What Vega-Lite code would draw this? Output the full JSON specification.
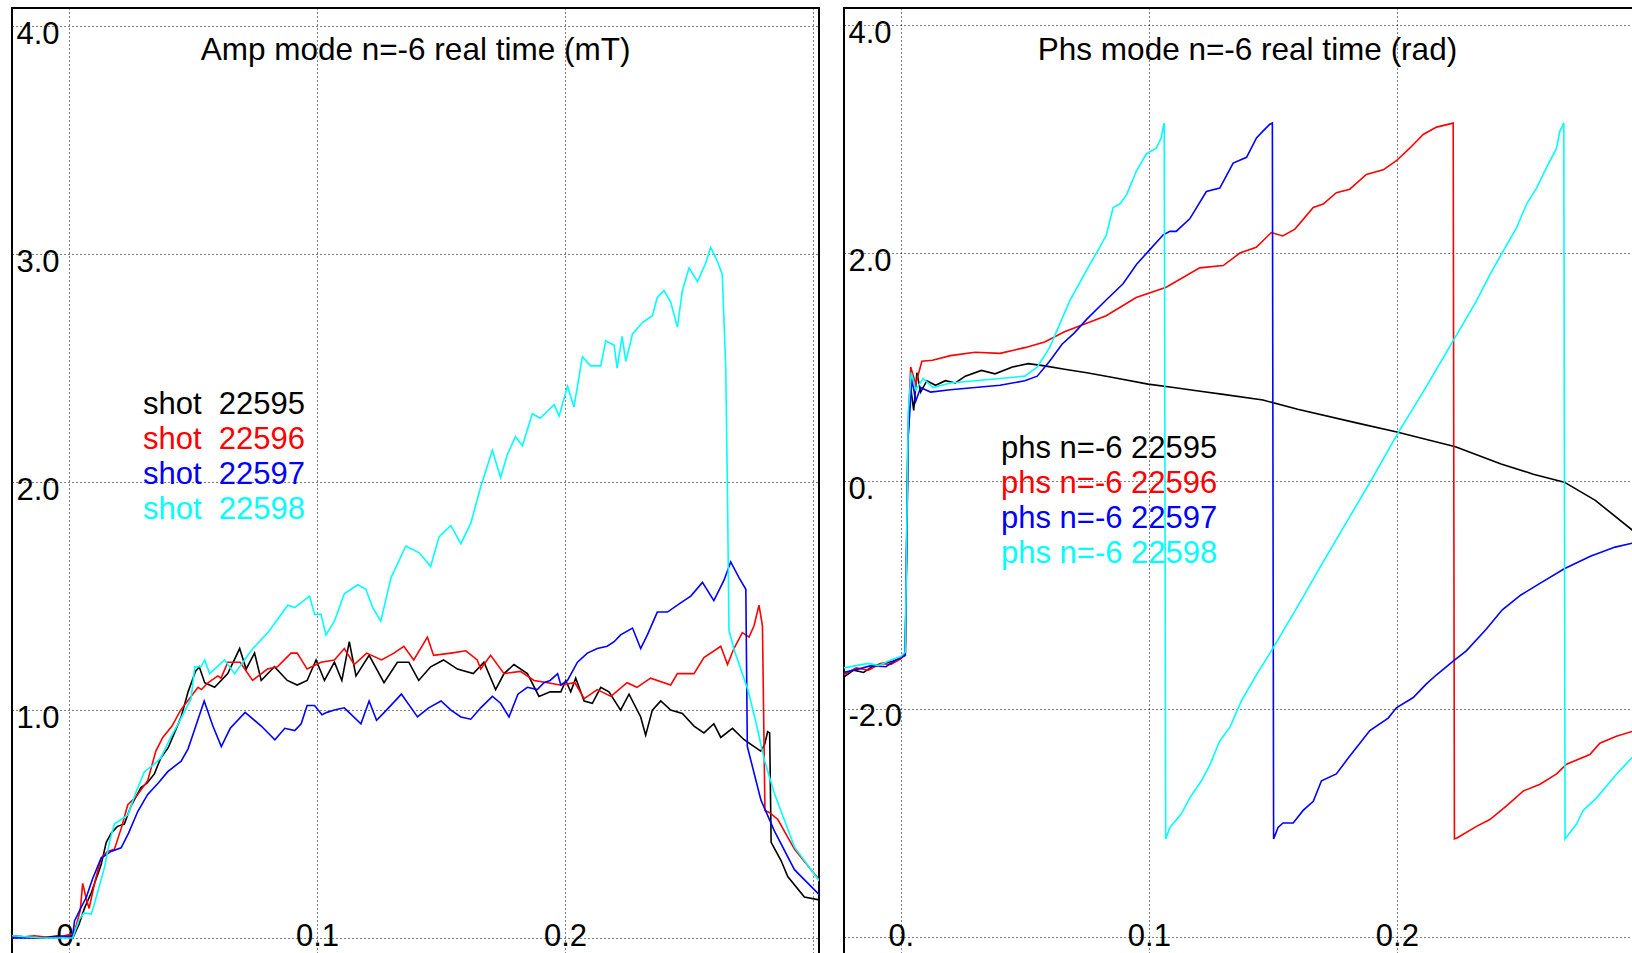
{
  "$schema": "https://vega.github.io/schema/vega-lite/v6.json",
  "padding": {"left": 11, "top": 7, "right": 0, "bottom": 0},
  "spacing": 23,
  "config": {
    "font": "Liberation Sans",
    "view": {"stroke": "#000000", "strokeWidth": 2},
    "axis": {
      "grid": true, "gridColor": "#000000", "gridDash": [1, 3], "gridOpacity": 1, "gridWidth": 1,
      "domain": false, "ticks": false, "tickSize": 0, "title": null,
      "labelFont": "Liberation Sans", "labelFontSize": 31, "labelColor": "#000000",
      "labelOverlap": false, "labelBound": false, "labelFlush": false
    },
    "legend": {
      "title": null, "orient": "none", "symbolSize": 0, "symbolOpacity": 0, "symbolStrokeWidth": 0,
      "labelOffset": 0, "labelFont": "Liberation Sans", "labelFontSize": 31, "labelLimit": 0, "rowPadding": 3, "padding": 0
    },
    "title": {"font": "Liberation Sans", "fontSize": 31.5, "fontWeight": "normal", "color": "#000000", "anchor": "middle", "frame": "group"}
  },
  "datasets": {
    "amp": [
      {"t": -0.023, "v": 0.01, "shot": "22595"}, {"t": -0.012, "v": 0.0, "shot": "22595"}, {"t": -0.004, "v": 0.01, "shot": "22595"}, {"t": 0.0015, "v": 0.0, "shot": "22595"},
      {"t": 0.004, "v": 0.06, "shot": "22595"}, {"t": 0.0062, "v": 0.13, "shot": "22595"}, {"t": 0.009, "v": 0.2, "shot": "22595"}, {"t": 0.0129, "v": 0.32, "shot": "22595"},
      {"t": 0.015, "v": 0.42, "shot": "22595"}, {"t": 0.017, "v": 0.46, "shot": "22595"}, {"t": 0.0195, "v": 0.49, "shot": "22595"}, {"t": 0.0223, "v": 0.5, "shot": "22595"},
      {"t": 0.025, "v": 0.58, "shot": "22595"}, {"t": 0.029, "v": 0.66, "shot": "22595"}, {"t": 0.0315, "v": 0.68, "shot": "22595"}, {"t": 0.0344, "v": 0.72, "shot": "22595"},
      {"t": 0.037, "v": 0.79, "shot": "22595"}, {"t": 0.04, "v": 0.835, "shot": "22595"}, {"t": 0.0425, "v": 0.9, "shot": "22595"}, {"t": 0.0452, "v": 0.97, "shot": "22595"},
      {"t": 0.048, "v": 1.08, "shot": "22595"}, {"t": 0.051, "v": 1.17, "shot": "22595"}, {"t": 0.0525, "v": 1.19, "shot": "22595"}, {"t": 0.0547, "v": 1.12, "shot": "22595"},
      {"t": 0.0587, "v": 1.1, "shot": "22595"}, {"t": 0.064, "v": 1.16, "shot": "22595"}, {"t": 0.0688, "v": 1.27, "shot": "22595"}, {"t": 0.0714, "v": 1.18, "shot": "22595"},
      {"t": 0.0748, "v": 1.25, "shot": "22595"}, {"t": 0.0775, "v": 1.13, "shot": "22595"}, {"t": 0.0828, "v": 1.19, "shot": "22595"}, {"t": 0.088, "v": 1.13, "shot": "22595"},
      {"t": 0.092, "v": 1.11, "shot": "22595"}, {"t": 0.096, "v": 1.13, "shot": "22595"}, {"t": 0.0996, "v": 1.22, "shot": "22595"}, {"t": 0.103, "v": 1.13, "shot": "22595"},
      {"t": 0.107, "v": 1.21, "shot": "22595"}, {"t": 0.11, "v": 1.13, "shot": "22595"}, {"t": 0.113, "v": 1.3, "shot": "22595"}, {"t": 0.1157, "v": 1.15, "shot": "22595"},
      {"t": 0.121, "v": 1.24, "shot": "22595"}, {"t": 0.127, "v": 1.12, "shot": "22595"}, {"t": 0.1324, "v": 1.21, "shot": "22595"}, {"t": 0.137, "v": 1.21, "shot": "22595"},
      {"t": 0.141, "v": 1.13, "shot": "22595"}, {"t": 0.1458, "v": 1.19, "shot": "22595"}, {"t": 0.151, "v": 1.22, "shot": "22595"}, {"t": 0.1566, "v": 1.18, "shot": "22595"},
      {"t": 0.163, "v": 1.16, "shot": "22595"}, {"t": 0.1673, "v": 1.21, "shot": "22595"}, {"t": 0.172, "v": 1.09, "shot": "22595"}, {"t": 0.1754, "v": 1.16, "shot": "22595"},
      {"t": 0.1794, "v": 1.2, "shot": "22595"}, {"t": 0.1848, "v": 1.16, "shot": "22595"}, {"t": 0.1895, "v": 1.06, "shot": "22595"}, {"t": 0.194, "v": 1.08, "shot": "22595"},
      {"t": 0.1983, "v": 1.08, "shot": "22595"}, {"t": 0.2003, "v": 1.13, "shot": "22595"}, {"t": 0.2023, "v": 1.08, "shot": "22595"}, {"t": 0.2043, "v": 1.14, "shot": "22595"},
      {"t": 0.2077, "v": 1.04, "shot": "22595"}, {"t": 0.211, "v": 1.03, "shot": "22595"}, {"t": 0.2144, "v": 1.1, "shot": "22595"}, {"t": 0.2177, "v": 1.08, "shot": "22595"},
      {"t": 0.2224, "v": 1.0, "shot": "22595"}, {"t": 0.2258, "v": 1.07, "shot": "22595"}, {"t": 0.2305, "v": 0.97, "shot": "22595"}, {"t": 0.2325, "v": 0.89, "shot": "22595"},
      {"t": 0.2352, "v": 1.0, "shot": "22595"}, {"t": 0.2386, "v": 1.04, "shot": "22595"}, {"t": 0.2426, "v": 1.0, "shot": "22595"}, {"t": 0.2473, "v": 0.985, "shot": "22595"},
      {"t": 0.252, "v": 0.93, "shot": "22595"}, {"t": 0.256, "v": 0.9, "shot": "22595"}, {"t": 0.26, "v": 0.94, "shot": "22595"}, {"t": 0.2628, "v": 0.88, "shot": "22595"},
      {"t": 0.2675, "v": 0.92, "shot": "22595"}, {"t": 0.2722, "v": 0.87, "shot": "22595"}, {"t": 0.2789, "v": 0.82, "shot": "22595"}, {"t": 0.2805, "v": 0.85, "shot": "22595"},
      {"t": 0.2817, "v": 0.905, "shot": "22595"}, {"t": 0.2825, "v": 0.9, "shot": "22595"}, {"t": 0.2831, "v": 0.42, "shot": "22595"}, {"t": 0.2871, "v": 0.34, "shot": "22595"},
      {"t": 0.2898, "v": 0.27, "shot": "22595"}, {"t": 0.2965, "v": 0.18, "shot": "22595"}, {"t": 0.3025, "v": 0.167, "shot": "22595"},

      {"t": -0.023, "v": 0.0, "shot": "22596"}, {"t": -0.014, "v": 0.01, "shot": "22596"}, {"t": -0.006, "v": 0.0, "shot": "22596"}, {"t": 0.002, "v": 0.02, "shot": "22596"},
      {"t": 0.0045, "v": 0.12, "shot": "22596"}, {"t": 0.0055, "v": 0.24, "shot": "22596"}, {"t": 0.007, "v": 0.17, "shot": "22596"}, {"t": 0.0081, "v": 0.13, "shot": "22596"},
      {"t": 0.0105, "v": 0.25, "shot": "22596"}, {"t": 0.0129, "v": 0.35, "shot": "22596"}, {"t": 0.0155, "v": 0.38, "shot": "22596"}, {"t": 0.0183, "v": 0.39, "shot": "22596"},
      {"t": 0.021, "v": 0.48, "shot": "22596"}, {"t": 0.0237, "v": 0.585, "shot": "22596"}, {"t": 0.027, "v": 0.62, "shot": "22596"}, {"t": 0.0317, "v": 0.69, "shot": "22596"},
      {"t": 0.035, "v": 0.82, "shot": "22596"}, {"t": 0.0378, "v": 0.88, "shot": "22596"}, {"t": 0.0415, "v": 0.93, "shot": "22596"}, {"t": 0.045, "v": 1.0, "shot": "22596"},
      {"t": 0.0485, "v": 1.05, "shot": "22596"}, {"t": 0.052, "v": 1.1, "shot": "22596"}, {"t": 0.0534, "v": 1.09, "shot": "22596"}, {"t": 0.056, "v": 1.12, "shot": "22596"},
      {"t": 0.06, "v": 1.15, "shot": "22596"}, {"t": 0.0613, "v": 1.14, "shot": "22596"}, {"t": 0.064, "v": 1.21, "shot": "22596"}, {"t": 0.069, "v": 1.21, "shot": "22596"},
      {"t": 0.074, "v": 1.13, "shot": "22596"}, {"t": 0.08, "v": 1.18, "shot": "22596"}, {"t": 0.084, "v": 1.19, "shot": "22596"}, {"t": 0.0895, "v": 1.25, "shot": "22596"},
      {"t": 0.092, "v": 1.25, "shot": "22596"}, {"t": 0.096, "v": 1.18, "shot": "22596"}, {"t": 0.1016, "v": 1.21, "shot": "22596"}, {"t": 0.107, "v": 1.22, "shot": "22596"},
      {"t": 0.111, "v": 1.27, "shot": "22596"}, {"t": 0.115, "v": 1.2, "shot": "22596"}, {"t": 0.12, "v": 1.25, "shot": "22596"}, {"t": 0.126, "v": 1.22, "shot": "22596"},
      {"t": 0.131, "v": 1.25, "shot": "22596"}, {"t": 0.135, "v": 1.28, "shot": "22596"}, {"t": 0.139, "v": 1.22, "shot": "22596"}, {"t": 0.1445, "v": 1.32, "shot": "22596"},
      {"t": 0.147, "v": 1.24, "shot": "22596"}, {"t": 0.154, "v": 1.25, "shot": "22596"}, {"t": 0.16, "v": 1.26, "shot": "22596"}, {"t": 0.1646, "v": 1.22, "shot": "22596"},
      {"t": 0.166, "v": 1.18, "shot": "22596"}, {"t": 0.17, "v": 1.24, "shot": "22596"}, {"t": 0.1754, "v": 1.16, "shot": "22596"}, {"t": 0.182, "v": 1.17, "shot": "22596"},
      {"t": 0.1875, "v": 1.13, "shot": "22596"}, {"t": 0.193, "v": 1.12, "shot": "22596"}, {"t": 0.198, "v": 1.11, "shot": "22596"}, {"t": 0.204, "v": 1.12, "shot": "22596"},
      {"t": 0.2077, "v": 1.05, "shot": "22596"}, {"t": 0.213, "v": 1.09, "shot": "22596"}, {"t": 0.2185, "v": 1.06, "shot": "22596"}, {"t": 0.225, "v": 1.12, "shot": "22596"},
      {"t": 0.229, "v": 1.1, "shot": "22596"}, {"t": 0.2345, "v": 1.14, "shot": "22596"}, {"t": 0.2426, "v": 1.11, "shot": "22596"}, {"t": 0.2453, "v": 1.16, "shot": "22596"},
      {"t": 0.252, "v": 1.16, "shot": "22596"}, {"t": 0.256, "v": 1.23, "shot": "22596"}, {"t": 0.2628, "v": 1.28, "shot": "22596"}, {"t": 0.2655, "v": 1.2, "shot": "22596"},
      {"t": 0.2681, "v": 1.27, "shot": "22596"}, {"t": 0.2715, "v": 1.34, "shot": "22596"}, {"t": 0.2742, "v": 1.32, "shot": "22596"}, {"t": 0.2762, "v": 1.37, "shot": "22596"},
      {"t": 0.2782, "v": 1.46, "shot": "22596"}, {"t": 0.2796, "v": 1.37, "shot": "22596"}, {"t": 0.2802, "v": 0.88, "shot": "22596"}, {"t": 0.2806, "v": 0.56, "shot": "22596"},
      {"t": 0.2825, "v": 0.55, "shot": "22596"}, {"t": 0.2858, "v": 0.52, "shot": "22596"}, {"t": 0.2925, "v": 0.39, "shot": "22596"}, {"t": 0.3025, "v": 0.255, "shot": "22596"},

      {"t": -0.023, "v": 0.0, "shot": "22597"}, {"t": -0.01, "v": 0.0, "shot": "22597"}, {"t": 0.0015, "v": 0.01, "shot": "22597"}, {"t": 0.0022, "v": 0.075, "shot": "22597"},
      {"t": 0.0048, "v": 0.133, "shot": "22597"}, {"t": 0.007, "v": 0.18, "shot": "22597"}, {"t": 0.0095, "v": 0.26, "shot": "22597"}, {"t": 0.0129, "v": 0.35, "shot": "22597"},
      {"t": 0.0169, "v": 0.38, "shot": "22597"}, {"t": 0.021, "v": 0.396, "shot": "22597"}, {"t": 0.024, "v": 0.46, "shot": "22597"}, {"t": 0.0277, "v": 0.555, "shot": "22597"},
      {"t": 0.0317, "v": 0.63, "shot": "22597"}, {"t": 0.036, "v": 0.68, "shot": "22597"}, {"t": 0.0398, "v": 0.73, "shot": "22597"}, {"t": 0.0452, "v": 0.776, "shot": "22597"},
      {"t": 0.048, "v": 0.83, "shot": "22597"}, {"t": 0.0505, "v": 0.91, "shot": "22597"}, {"t": 0.0545, "v": 1.04, "shot": "22597"}, {"t": 0.058, "v": 0.93, "shot": "22597"},
      {"t": 0.0614, "v": 0.84, "shot": "22597"}, {"t": 0.065, "v": 0.92, "shot": "22597"}, {"t": 0.071, "v": 0.99, "shot": "22597"}, {"t": 0.0775, "v": 0.93, "shot": "22597"},
      {"t": 0.083, "v": 0.87, "shot": "22597"}, {"t": 0.087, "v": 0.92, "shot": "22597"}, {"t": 0.091, "v": 0.91, "shot": "22597"}, {"t": 0.0936, "v": 0.94, "shot": "22597"},
      {"t": 0.096, "v": 1.02, "shot": "22597"}, {"t": 0.099, "v": 1.02, "shot": "22597"}, {"t": 0.102, "v": 0.98, "shot": "22597"}, {"t": 0.104, "v": 0.99, "shot": "22597"},
      {"t": 0.107, "v": 1.0, "shot": "22597"}, {"t": 0.111, "v": 1.01, "shot": "22597"}, {"t": 0.1177, "v": 0.94, "shot": "22597"}, {"t": 0.121, "v": 1.04, "shot": "22597"},
      {"t": 0.124, "v": 0.955, "shot": "22597"}, {"t": 0.128, "v": 1.0, "shot": "22597"}, {"t": 0.134, "v": 1.07, "shot": "22597"}, {"t": 0.1405, "v": 0.97, "shot": "22597"},
      {"t": 0.145, "v": 1.01, "shot": "22597"}, {"t": 0.15, "v": 1.04, "shot": "22597"}, {"t": 0.154, "v": 1.0, "shot": "22597"}, {"t": 0.158, "v": 0.97, "shot": "22597"},
      {"t": 0.162, "v": 0.96, "shot": "22597"}, {"t": 0.166, "v": 1.01, "shot": "22597"}, {"t": 0.1707, "v": 1.06, "shot": "22597"}, {"t": 0.174, "v": 1.03, "shot": "22597"},
      {"t": 0.1774, "v": 0.97, "shot": "22597"}, {"t": 0.181, "v": 1.07, "shot": "22597"}, {"t": 0.1848, "v": 1.1, "shot": "22597"}, {"t": 0.1888, "v": 1.09, "shot": "22597"},
      {"t": 0.1915, "v": 1.12, "shot": "22597"}, {"t": 0.194, "v": 1.13, "shot": "22597"}, {"t": 0.197, "v": 1.16, "shot": "22597"}, {"t": 0.1983, "v": 1.11, "shot": "22597"},
      {"t": 0.201, "v": 1.13, "shot": "22597"}, {"t": 0.205, "v": 1.21, "shot": "22597"}, {"t": 0.209, "v": 1.25, "shot": "22597"}, {"t": 0.213, "v": 1.27, "shot": "22597"},
      {"t": 0.217, "v": 1.28, "shot": "22597"}, {"t": 0.2198, "v": 1.3, "shot": "22597"}, {"t": 0.2224, "v": 1.33, "shot": "22597"}, {"t": 0.2272, "v": 1.36, "shot": "22597"},
      {"t": 0.2305, "v": 1.27, "shot": "22597"}, {"t": 0.2332, "v": 1.33, "shot": "22597"}, {"t": 0.2372, "v": 1.43, "shot": "22597"}, {"t": 0.2413, "v": 1.43, "shot": "22597"},
      {"t": 0.2466, "v": 1.47, "shot": "22597"}, {"t": 0.2507, "v": 1.5, "shot": "22597"}, {"t": 0.2554, "v": 1.56, "shot": "22597"}, {"t": 0.26, "v": 1.48, "shot": "22597"},
      {"t": 0.2641, "v": 1.57, "shot": "22597"}, {"t": 0.2668, "v": 1.65, "shot": "22597"}, {"t": 0.2702, "v": 1.58, "shot": "22597"}, {"t": 0.2729, "v": 1.53, "shot": "22597"},
      {"t": 0.2735, "v": 0.84, "shot": "22597"}, {"t": 0.279, "v": 0.605, "shot": "22597"}, {"t": 0.2844, "v": 0.47, "shot": "22597"}, {"t": 0.2925, "v": 0.3, "shot": "22597"},
      {"t": 0.3025, "v": 0.19, "shot": "22597"},

      {"t": -0.023, "v": 0.01, "shot": "22598"}, {"t": -0.011, "v": 0.0, "shot": "22598"}, {"t": 0.0015, "v": 0.0, "shot": "22598"}, {"t": 0.004, "v": 0.08, "shot": "22598"},
      {"t": 0.006, "v": 0.11, "shot": "22598"}, {"t": 0.009, "v": 0.105, "shot": "22598"}, {"t": 0.0115, "v": 0.2, "shot": "22598"}, {"t": 0.0143, "v": 0.31, "shot": "22598"},
      {"t": 0.0165, "v": 0.43, "shot": "22598"}, {"t": 0.0183, "v": 0.5, "shot": "22598"}, {"t": 0.021, "v": 0.52, "shot": "22598"}, {"t": 0.0237, "v": 0.54, "shot": "22598"},
      {"t": 0.027, "v": 0.64, "shot": "22598"}, {"t": 0.0304, "v": 0.73, "shot": "22598"}, {"t": 0.034, "v": 0.76, "shot": "22598"}, {"t": 0.037, "v": 0.79, "shot": "22598"},
      {"t": 0.041, "v": 0.88, "shot": "22598"}, {"t": 0.044, "v": 0.94, "shot": "22598"}, {"t": 0.0492, "v": 1.05, "shot": "22598"}, {"t": 0.0507, "v": 1.19, "shot": "22598"},
      {"t": 0.0532, "v": 1.19, "shot": "22598"}, {"t": 0.0547, "v": 1.22, "shot": "22598"}, {"t": 0.0567, "v": 1.16, "shot": "22598"}, {"t": 0.0627, "v": 1.22, "shot": "22598"},
      {"t": 0.0668, "v": 1.16, "shot": "22598"}, {"t": 0.0741, "v": 1.27, "shot": "22598"}, {"t": 0.0802, "v": 1.34, "shot": "22598"}, {"t": 0.0882, "v": 1.46, "shot": "22598"},
      {"t": 0.091, "v": 1.45, "shot": "22598"}, {"t": 0.097, "v": 1.5, "shot": "22598"}, {"t": 0.099, "v": 1.42, "shot": "22598"}, {"t": 0.1016, "v": 1.42, "shot": "22598"},
      {"t": 0.1036, "v": 1.33, "shot": "22598"}, {"t": 0.107, "v": 1.39, "shot": "22598"}, {"t": 0.111, "v": 1.51, "shot": "22598"}, {"t": 0.1164, "v": 1.55, "shot": "22598"},
      {"t": 0.1197, "v": 1.53, "shot": "22598"}, {"t": 0.1224, "v": 1.45, "shot": "22598"}, {"t": 0.1257, "v": 1.39, "shot": "22598"}, {"t": 0.1298, "v": 1.58, "shot": "22598"},
      {"t": 0.1358, "v": 1.72, "shot": "22598"}, {"t": 0.1412, "v": 1.69, "shot": "22598"}, {"t": 0.1458, "v": 1.63, "shot": "22598"}, {"t": 0.1492, "v": 1.76, "shot": "22598"},
      {"t": 0.1539, "v": 1.81, "shot": "22598"}, {"t": 0.158, "v": 1.73, "shot": "22598"}, {"t": 0.162, "v": 1.82, "shot": "22598"}, {"t": 0.166, "v": 1.98, "shot": "22598"},
      {"t": 0.1707, "v": 2.14, "shot": "22598"}, {"t": 0.174, "v": 2.02, "shot": "22598"}, {"t": 0.1767, "v": 2.12, "shot": "22598"}, {"t": 0.18, "v": 2.2, "shot": "22598"},
      {"t": 0.1828, "v": 2.16, "shot": "22598"}, {"t": 0.1868, "v": 2.3, "shot": "22598"}, {"t": 0.19, "v": 2.28, "shot": "22598"}, {"t": 0.1956, "v": 2.34, "shot": "22598"},
      {"t": 0.1976, "v": 2.29, "shot": "22598"}, {"t": 0.201, "v": 2.42, "shot": "22598"}, {"t": 0.2036, "v": 2.33, "shot": "22598"}, {"t": 0.207, "v": 2.55, "shot": "22598"},
      {"t": 0.2103, "v": 2.51, "shot": "22598"}, {"t": 0.2144, "v": 2.51, "shot": "22598"}, {"t": 0.2164, "v": 2.62, "shot": "22598"}, {"t": 0.2198, "v": 2.6, "shot": "22598"},
      {"t": 0.221, "v": 2.5, "shot": "22598"}, {"t": 0.223, "v": 2.64, "shot": "22598"}, {"t": 0.2245, "v": 2.53, "shot": "22598"}, {"t": 0.2272, "v": 2.65, "shot": "22598"},
      {"t": 0.2312, "v": 2.7, "shot": "22598"}, {"t": 0.2352, "v": 2.73, "shot": "22598"}, {"t": 0.2372, "v": 2.81, "shot": "22598"}, {"t": 0.2399, "v": 2.84, "shot": "22598"},
      {"t": 0.2426, "v": 2.79, "shot": "22598"}, {"t": 0.2453, "v": 2.68, "shot": "22598"}, {"t": 0.2473, "v": 2.84, "shot": "22598"}, {"t": 0.25, "v": 2.94, "shot": "22598"},
      {"t": 0.2534, "v": 2.88, "shot": "22598"}, {"t": 0.2567, "v": 2.96, "shot": "22598"}, {"t": 0.2587, "v": 3.03, "shot": "22598"}, {"t": 0.2614, "v": 2.97, "shot": "22598"},
      {"t": 0.2634, "v": 2.91, "shot": "22598"}, {"t": 0.2648, "v": 2.5, "shot": "22598"}, {"t": 0.2655, "v": 1.95, "shot": "22598"}, {"t": 0.2661, "v": 1.35, "shot": "22598"},
      {"t": 0.2683, "v": 1.26, "shot": "22598"}, {"t": 0.2737, "v": 1.09, "shot": "22598"}, {"t": 0.2769, "v": 0.95, "shot": "22598"}, {"t": 0.2804, "v": 0.78, "shot": "22598"},
      {"t": 0.2844, "v": 0.635, "shot": "22598"}, {"t": 0.2925, "v": 0.4, "shot": "22598"}, {"t": 0.3025, "v": 0.25, "shot": "22598"}
    ],
    "phs": [
      {"t": -0.023, "v": -1.72, "shot": "22595"}, {"t": -0.019, "v": -1.66, "shot": "22595"}, {"t": -0.015, "v": -1.68, "shot": "22595"}, {"t": -0.011, "v": -1.62, "shot": "22595"},
      {"t": -0.007, "v": -1.6, "shot": "22595"}, {"t": -0.003, "v": -1.58, "shot": "22595"}, {"t": 0.0, "v": -1.55, "shot": "22595"}, {"t": 0.0018, "v": -1.52, "shot": "22595"},
      {"t": 0.0028, "v": 0.3, "shot": "22595"}, {"t": 0.0038, "v": 0.85, "shot": "22595"}, {"t": 0.0052, "v": 0.62, "shot": "22595"}, {"t": 0.0065, "v": 0.95, "shot": "22595"},
      {"t": 0.008, "v": 0.78, "shot": "22595"}, {"t": 0.0105, "v": 0.88, "shot": "22595"}, {"t": 0.014, "v": 0.84, "shot": "22595"}, {"t": 0.018, "v": 0.88, "shot": "22595"},
      {"t": 0.022, "v": 0.86, "shot": "22595"}, {"t": 0.026, "v": 0.92, "shot": "22595"}, {"t": 0.0325, "v": 0.97, "shot": "22595"}, {"t": 0.038, "v": 0.94, "shot": "22595"},
      {"t": 0.045, "v": 1.0, "shot": "22595"}, {"t": 0.0514, "v": 1.03, "shot": "22595"}, {"t": 0.058, "v": 1.01, "shot": "22595"}, {"t": 0.066, "v": 0.98, "shot": "22595"},
      {"t": 0.075, "v": 0.95, "shot": "22595"}, {"t": 0.085, "v": 0.91, "shot": "22595"}, {"t": 0.0997, "v": 0.85, "shot": "22595"}, {"t": 0.11, "v": 0.82, "shot": "22595"},
      {"t": 0.12, "v": 0.79, "shot": "22595"}, {"t": 0.13, "v": 0.76, "shot": "22595"}, {"t": 0.146, "v": 0.71, "shot": "22595"}, {"t": 0.16, "v": 0.63, "shot": "22595"},
      {"t": 0.1837, "v": 0.51, "shot": "22595"}, {"t": 0.2, "v": 0.43, "shot": "22595"}, {"t": 0.2236, "v": 0.3, "shot": "22595"}, {"t": 0.242, "v": 0.15, "shot": "22595"},
      {"t": 0.255, "v": 0.06, "shot": "22595"}, {"t": 0.2675, "v": -0.01, "shot": "22595"}, {"t": 0.28, "v": -0.17, "shot": "22595"}, {"t": 0.296, "v": -0.45, "shot": "22595"},

      {"t": -0.023, "v": -1.7, "shot": "22596"}, {"t": -0.018, "v": -1.64, "shot": "22596"}, {"t": -0.013, "v": -1.66, "shot": "22596"}, {"t": -0.008, "v": -1.6, "shot": "22596"},
      {"t": -0.004, "v": -1.61, "shot": "22596"}, {"t": 0.0, "v": -1.56, "shot": "22596"}, {"t": 0.0018, "v": -1.52, "shot": "22596"}, {"t": 0.003, "v": 0.5, "shot": "22596"},
      {"t": 0.004, "v": 1.0, "shot": "22596"}, {"t": 0.006, "v": 0.85, "shot": "22596"}, {"t": 0.0085, "v": 1.05, "shot": "22596"}, {"t": 0.0128, "v": 1.06, "shot": "22596"},
      {"t": 0.02, "v": 1.1, "shot": "22596"}, {"t": 0.03, "v": 1.13, "shot": "22596"}, {"t": 0.04, "v": 1.12, "shot": "22596"}, {"t": 0.05, "v": 1.17, "shot": "22596"},
      {"t": 0.058, "v": 1.22, "shot": "22596"}, {"t": 0.066, "v": 1.31, "shot": "22596"}, {"t": 0.0828, "v": 1.45, "shot": "22596"}, {"t": 0.0949, "v": 1.61, "shot": "22596"},
      {"t": 0.107, "v": 1.7, "shot": "22596"}, {"t": 0.1205, "v": 1.87, "shot": "22596"}, {"t": 0.13, "v": 1.89, "shot": "22596"}, {"t": 0.1367, "v": 2.0, "shot": "22596"},
      {"t": 0.1433, "v": 2.05, "shot": "22596"}, {"t": 0.1494, "v": 2.18, "shot": "22596"}, {"t": 0.154, "v": 2.15, "shot": "22596"}, {"t": 0.1589, "v": 2.21, "shot": "22596"},
      {"t": 0.1663, "v": 2.4, "shot": "22596"}, {"t": 0.1703, "v": 2.43, "shot": "22596"}, {"t": 0.1756, "v": 2.53, "shot": "22596"}, {"t": 0.181, "v": 2.56, "shot": "22596"},
      {"t": 0.1877, "v": 2.69, "shot": "22596"}, {"t": 0.1945, "v": 2.73, "shot": "22596"}, {"t": 0.1998, "v": 2.81, "shot": "22596"}, {"t": 0.2052, "v": 2.92, "shot": "22596"},
      {"t": 0.2106, "v": 3.04, "shot": "22596"}, {"t": 0.216, "v": 3.105, "shot": "22596"}, {"t": 0.2227, "v": 3.14, "shot": "22596"}, {"t": 0.2232, "v": -3.14, "shot": "22596"},
      {"t": 0.2244, "v": -3.13, "shot": "22596"}, {"t": 0.2321, "v": -3.03, "shot": "22596"}, {"t": 0.2375, "v": -2.97, "shot": "22596"}, {"t": 0.2442, "v": -2.85, "shot": "22596"},
      {"t": 0.251, "v": -2.72, "shot": "22596"}, {"t": 0.2577, "v": -2.66, "shot": "22596"}, {"t": 0.2644, "v": -2.57, "shot": "22596"}, {"t": 0.2684, "v": -2.485, "shot": "22596"},
      {"t": 0.2778, "v": -2.4, "shot": "22596"}, {"t": 0.2818, "v": -2.3, "shot": "22596"}, {"t": 0.2885, "v": -2.24, "shot": "22596"}, {"t": 0.296, "v": -2.19, "shot": "22596"},

      {"t": -0.023, "v": -1.68, "shot": "22597"}, {"t": -0.017, "v": -1.65, "shot": "22597"}, {"t": -0.012, "v": -1.62, "shot": "22597"}, {"t": -0.006, "v": -1.63, "shot": "22597"},
      {"t": -0.002, "v": -1.57, "shot": "22597"}, {"t": 0.0018, "v": -1.53, "shot": "22597"}, {"t": 0.003, "v": 0.4, "shot": "22597"}, {"t": 0.0045, "v": 0.9, "shot": "22597"},
      {"t": 0.006, "v": 0.7, "shot": "22597"}, {"t": 0.008, "v": 0.82, "shot": "22597"}, {"t": 0.012, "v": 0.78, "shot": "22597"}, {"t": 0.02, "v": 0.8, "shot": "22597"},
      {"t": 0.03, "v": 0.82, "shot": "22597"}, {"t": 0.04, "v": 0.84, "shot": "22597"}, {"t": 0.05, "v": 0.88, "shot": "22597"}, {"t": 0.055, "v": 0.92, "shot": "22597"},
      {"t": 0.06, "v": 1.05, "shot": "22597"}, {"t": 0.065, "v": 1.2, "shot": "22597"}, {"t": 0.07, "v": 1.3, "shot": "22597"}, {"t": 0.075, "v": 1.42, "shot": "22597"},
      {"t": 0.0829, "v": 1.59, "shot": "22597"}, {"t": 0.0896, "v": 1.73, "shot": "22597"}, {"t": 0.095, "v": 1.9, "shot": "22597"}, {"t": 0.1004, "v": 2.03, "shot": "22597"},
      {"t": 0.1058, "v": 2.16, "shot": "22597"}, {"t": 0.1085, "v": 2.19, "shot": "22597"}, {"t": 0.111, "v": 2.19, "shot": "22597"}, {"t": 0.1165, "v": 2.3, "shot": "22597"},
      {"t": 0.1232, "v": 2.54, "shot": "22597"}, {"t": 0.1286, "v": 2.57, "shot": "22597"}, {"t": 0.134, "v": 2.79, "shot": "22597"}, {"t": 0.1394, "v": 2.84, "shot": "22597"},
      {"t": 0.1434, "v": 3.01, "shot": "22597"}, {"t": 0.146, "v": 3.07, "shot": "22597"}, {"t": 0.1488, "v": 3.13, "shot": "22597"}, {"t": 0.1498, "v": 3.14, "shot": "22597"},
      {"t": 0.1503, "v": -3.14, "shot": "22597"}, {"t": 0.1521, "v": -3.04, "shot": "22597"}, {"t": 0.1541, "v": -3.0, "shot": "22597"}, {"t": 0.1582, "v": -3.0, "shot": "22597"},
      {"t": 0.1622, "v": -2.89, "shot": "22597"}, {"t": 0.1663, "v": -2.81, "shot": "22597"}, {"t": 0.1696, "v": -2.63, "shot": "22597"}, {"t": 0.1756, "v": -2.57, "shot": "22597"},
      {"t": 0.1804, "v": -2.43, "shot": "22597"}, {"t": 0.1891, "v": -2.19, "shot": "22597"}, {"t": 0.1965, "v": -2.08, "shot": "22597"}, {"t": 0.1998, "v": -1.99, "shot": "22597"},
      {"t": 0.2066, "v": -1.9, "shot": "22597"}, {"t": 0.2119, "v": -1.78, "shot": "22597"}, {"t": 0.216, "v": -1.7, "shot": "22597"}, {"t": 0.2227, "v": -1.58, "shot": "22597"},
      {"t": 0.228, "v": -1.49, "shot": "22597"}, {"t": 0.236, "v": -1.3, "shot": "22597"}, {"t": 0.2425, "v": -1.13, "shot": "22597"}, {"t": 0.25, "v": -1.0, "shot": "22597"},
      {"t": 0.2575, "v": -0.9, "shot": "22597"}, {"t": 0.2675, "v": -0.77, "shot": "22597"}, {"t": 0.278, "v": -0.66, "shot": "22597"}, {"t": 0.288, "v": -0.58, "shot": "22597"},
      {"t": 0.296, "v": -0.54, "shot": "22597"},

      {"t": -0.023, "v": -1.64, "shot": "22598"}, {"t": -0.018, "v": -1.62, "shot": "22598"}, {"t": -0.013, "v": -1.6, "shot": "22598"}, {"t": -0.009, "v": -1.62, "shot": "22598"},
      {"t": -0.004, "v": -1.57, "shot": "22598"}, {"t": 0.0, "v": -1.54, "shot": "22598"}, {"t": 0.0018, "v": -1.5, "shot": "22598"}, {"t": 0.003, "v": 0.6, "shot": "22598"},
      {"t": 0.0042, "v": 0.95, "shot": "22598"}, {"t": 0.006, "v": 0.8, "shot": "22598"}, {"t": 0.009, "v": 0.9, "shot": "22598"}, {"t": 0.013, "v": 0.82, "shot": "22598"},
      {"t": 0.02, "v": 0.86, "shot": "22598"}, {"t": 0.03, "v": 0.88, "shot": "22598"}, {"t": 0.04, "v": 0.9, "shot": "22598"}, {"t": 0.05, "v": 0.92, "shot": "22598"},
      {"t": 0.055, "v": 1.0, "shot": "22598"}, {"t": 0.06, "v": 1.17, "shot": "22598"}, {"t": 0.0681, "v": 1.58, "shot": "22598"}, {"t": 0.0762, "v": 1.9, "shot": "22598"},
      {"t": 0.0802, "v": 2.05, "shot": "22598"}, {"t": 0.0829, "v": 2.16, "shot": "22598"}, {"t": 0.0856, "v": 2.4, "shot": "22598"}, {"t": 0.0883, "v": 2.43, "shot": "22598"},
      {"t": 0.091, "v": 2.51, "shot": "22598"}, {"t": 0.095, "v": 2.72, "shot": "22598"}, {"t": 0.099, "v": 2.87, "shot": "22598"}, {"t": 0.103, "v": 2.92, "shot": "22598"},
      {"t": 0.105, "v": 3.01, "shot": "22598"}, {"t": 0.1058, "v": 3.11, "shot": "22598"}, {"t": 0.1062, "v": 3.14, "shot": "22598"}, {"t": 0.1068, "v": -3.14, "shot": "22598"},
      {"t": 0.1085, "v": -3.04, "shot": "22598"}, {"t": 0.1131, "v": -2.92, "shot": "22598"}, {"t": 0.1165, "v": -2.78, "shot": "22598"}, {"t": 0.1212, "v": -2.63, "shot": "22598"},
      {"t": 0.1246, "v": -2.49, "shot": "22598"}, {"t": 0.1286, "v": -2.28, "shot": "22598"}, {"t": 0.1327, "v": -2.16, "shot": "22598"}, {"t": 0.1373, "v": -1.93, "shot": "22598"},
      {"t": 0.1434, "v": -1.7, "shot": "22598"}, {"t": 0.1494, "v": -1.49, "shot": "22598"}, {"t": 0.16, "v": -1.1, "shot": "22598"}, {"t": 0.17, "v": -0.72, "shot": "22598"},
      {"t": 0.18, "v": -0.35, "shot": "22598"}, {"t": 0.19, "v": 0.02, "shot": "22598"}, {"t": 0.2004, "v": 0.42, "shot": "22598"}, {"t": 0.21, "v": 0.76, "shot": "22598"},
      {"t": 0.22, "v": 1.13, "shot": "22598"}, {"t": 0.2321, "v": 1.58, "shot": "22598"}, {"t": 0.2375, "v": 1.81, "shot": "22598"}, {"t": 0.2429, "v": 2.02, "shot": "22598"},
      {"t": 0.2482, "v": 2.22, "shot": "22598"}, {"t": 0.2523, "v": 2.43, "shot": "22598"}, {"t": 0.2563, "v": 2.57, "shot": "22598"}, {"t": 0.2603, "v": 2.75, "shot": "22598"},
      {"t": 0.2644, "v": 2.92, "shot": "22598"}, {"t": 0.2657, "v": 3.07, "shot": "22598"}, {"t": 0.2673, "v": 3.14, "shot": "22598"}, {"t": 0.2678, "v": -3.14, "shot": "22598"},
      {"t": 0.2724, "v": -3.01, "shot": "22598"}, {"t": 0.2751, "v": -2.89, "shot": "22598"}, {"t": 0.2805, "v": -2.78, "shot": "22598"}, {"t": 0.2886, "v": -2.57, "shot": "22598"},
      {"t": 0.296, "v": -2.4, "shot": "22598"}
    ]
  },
  "resolve": {"scale": {"color": "independent"}, "legend": {"color": "independent"}},
  "hconcat": [
    {
      "width": 807,
      "height": 946,
      "title": {"text": "Amp mode n=-6 real time (mT)", "offset": -83, "baseline": "alphabetic"},
      "data": {"name": "amp"},
      "mark": {"type": "line", "strokeWidth": 1.6, "clip": true},
      "encoding": {
        "x": {
          "field": "t", "type": "quantitative",
          "scale": {"domain": [-0.023, 0.3024], "nice": false, "zero": false},
          "axis": {"values": [0, 0.1, 0.2, 0.3], "labelBaseline": "middle", "labelPadding": -18,
                   "labelExpr": "datum.value == 0 ? '0.' : datum.value > 0.25 ? '' : format(datum.value, '.1f')"}
        },
        "y": {
          "field": "v", "type": "quantitative",
          "scale": {"domain": [-0.07, 4.08], "nice": false, "zero": false},
          "axis": {"values": [0, 1, 2, 3, 4], "labelAlign": "left", "labelBaseline": "middle", "labelPadding": -4, "labelOffset": 8,
                   "labelExpr": "datum.value == 0 ? '' : format(datum.value, '.1f')"}
        },
        "color": {
          "field": "shot", "type": "nominal",
          "scale": {"domain": ["22595", "22596", "22597", "22598"], "range": ["#000000", "#ff0000", "#0000ff", "#00ffff"]},
          "legend": {
            "legendX": 100, "legendY": 381,
            "labelExpr": "'shot\u00a0\u00a0' + datum.label",
            "encode": {"labels": {"update": {"fill": {"signal": "datum.value == '22595' ? '#000000' : datum.value == '22596' ? '#ff0000' : datum.value == '22597' ? '#0000ff' : '#00ffff'"}}}}
          }
        }
      }
    },
    {
      "width": 791,
      "height": 946,
      "title": {"text": "Phs mode n=-6 real time (rad)", "offset": -83, "baseline": "alphabetic", "dx": 8},
      "data": {"name": "phs"},
      "mark": {"type": "line", "strokeWidth": 1.6, "clip": true},
      "encoding": {
        "x": {
          "field": "t", "type": "quantitative",
          "scale": {"domain": [-0.0229, 0.296], "nice": false, "zero": false},
          "axis": {"values": [0, 0.1, 0.2], "labelBaseline": "middle", "labelPadding": -18,
                   "labelExpr": "datum.value == 0 ? '0.' : format(datum.value, '.1f')"}
        },
        "y": {
          "field": "v", "type": "quantitative",
          "scale": {"domain": [-4.15, 4.15], "nice": false, "zero": false},
          "axis": {"values": [-4, -2, 0, 2, 4], "labelAlign": "left", "labelBaseline": "middle", "labelPadding": -4, "labelOffset": 8,
                   "labelExpr": "datum.value == 0 ? '0.' : datum.value < -3 ? '' : datum.value < 0 ? '-' + format(-datum.value, '.1f') : format(datum.value, '.1f')"}
        },
        "color": {
          "field": "shot", "type": "nominal",
          "scale": {"domain": ["22595", "22596", "22597", "22598"], "range": ["#000000", "#ff0000", "#0000ff", "#00ffff"]},
          "legend": {
            "legendX": 126, "legendY": 425,
            "labelExpr": "'phs n=-6 ' + datum.label",
            "encode": {"labels": {"update": {"fill": {"signal": "datum.value == '22595' ? '#000000' : datum.value == '22596' ? '#ff0000' : datum.value == '22597' ? '#0000ff' : '#00ffff'"}}}}
          }
        }
      }
    }
  ]
}
